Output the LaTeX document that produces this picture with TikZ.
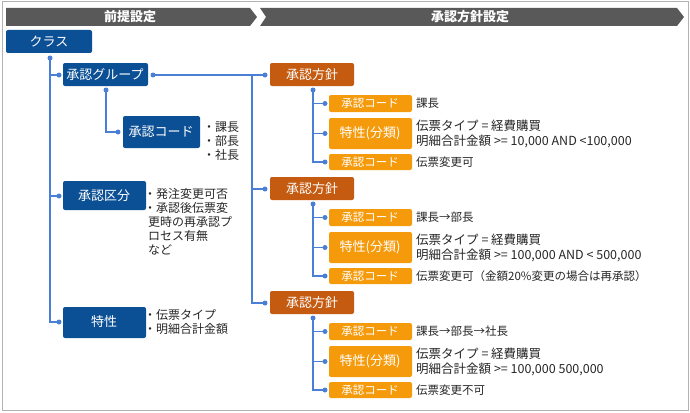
\documentclass[tikz,border=0pt]{standalone}
\usepackage{fontspec}
\setmainfont{Noto Sans CJK JP}
\usetikzlibrary{positioning}

\definecolor{navy}{HTML}{0B4F95}
\definecolor{rust}{HTML}{C55A11}
\definecolor{amber}{HTML}{F59A0B}
\definecolor{wire}{HTML}{4A7FD6}
\definecolor{band}{HTML}{595959}

\begin{document}
\begin{tikzpicture}
[
    x=1pt, y=-1pt, font=\fontsize{12}{14}\selectfont,
    % boxes are placed by their pixel corners of the original layout
]

%=================================== Start ===================================
\tikzstyle{big}  = [text=white, font=\fontsize{13}{15}\selectfont]
\tikzstyle{small}= [text=white, font=\fontsize{11.5}{13}\selectfont]
\tikzstyle{txt}  = [anchor=west, inner sep=0pt, align=left, text=black!85]
\tikzstyle{dot}  = [circle, fill=wire, minimum size=5pt, inner sep=0pt]
\tikzstyle{wl}   = [wire, line width=1.3pt]

\useasboundingbox (0,0) rectangle (690,412);
\draw[black!30, line width=1pt] (2,2) rectangle (688,410);

% Header bands
\fill[band] (6,8) -- (250,8) -- (257,17) -- (250,26) -- (6,26) -- cycle;
\fill[band] (260,8) -- (677,8) -- (684,17) -- (677,26) -- (260,26) -- (266,17) -- cycle;
\node[text=white, font=\bfseries\fontsize{13}{15}\selectfont] (h-1) at (130,17) {前提設定};
\node[text=white, font=\bfseries\fontsize{13}{15}\selectfont] (h-2) at (470,17) {承認方針設定};

% Left tree
\fill[navy, rounded corners=2pt] (6,30) rectangle (92,53);      \node[big] (K) at (49,42) {クラス};
\fill[navy, rounded corners=2pt] (63,63) rectangle (148,86);    \node[big] (G) at (105,75) {承認グループ};
\fill[navy, rounded corners=2pt] (123,116) rectangle (200,148); \node[big] (C) at (161,132) {承認コード};
\fill[navy, rounded corners=2pt] (63,181) rectangle (146,210);  \node[big] (D) at (104,196) {承認区分};
\fill[navy, rounded corners=2pt] (63,307) rectangle (146,338);  \node[big] (T) at (104,322) {特性};

\node[txt] (C-t) at (203,141) {\baselineskip=16pt ・課長\\・部長\\・社長};
\node[txt] (D-t) at (144,221.5) {\baselineskip=16.3pt ・発注変更可否\\・承認後伝票変\\\hspace*{4pt}更時の再承認プ\\\hspace*{4pt}ロセス有無\\\hspace*{4pt}など};
\node[txt] (T-t) at (144,322) {\baselineskip=16pt ・伝票タイプ\\・明細合計金額};

\draw[wl] (50,58) -- (50,322) -- (59,322);
\draw[wl] (50,75) -- (59,75);
\draw[wl] (50,196) -- (59,196);
\draw[wl] (106,90) -- (106,132) -- (118,132);
\draw[wl] (153,75) -- (265,75);
\draw[wl] (252,75) -- (252,303) -- (265,303);
\draw[wl] (252,189) -- (265,189);
\foreach \p in {(50,58),(59,75),(59,196),(59,322),(106,90),(118,132),(153,75)}
    \node[dot] at \p {};

% Right tree: three policies
\foreach \i / \y / \a / \b / \c in {
    1/63/課長/{伝票タイプ = 経費購買\\明細合計金額 >= 10,000 AND <100,000}/伝票変更可,
    2/177/課長→部長/{伝票タイプ = 経費購買\\明細合計金額 >= 100,000 AND < 500,000}/{伝票変更可（金額20\%変更の場合は再承認）},
    3/291/課長→部長→社長/{伝票タイプ = 経費購買\\明細合計金額 >= 100,000 500,000}/伝票変更不可}
{
    \fill[rust, rounded corners=2pt] (270,\y) rectangle (354,\y+23);
    \node[big] (P-\i) at (312,\y+11.5) {承認方針};
    \node[dot] at (265,\y+12) {};
    \fill[amber, rounded corners=2pt] (329,\y+32) rectangle (412,\y+49);
    \node[small] (S-\i-1) at (370,\y+40.5) {承認コード};
    \fill[amber, rounded corners=2pt] (329,\y+55) rectangle (412,\y+86);
    \node[big] (S-\i-2) at (370,\y+70.5) {特性(分類)};
    \fill[amber, rounded corners=2pt] (329,\y+91) rectangle (412,\y+107);
    \node[small] (S-\i-3) at (370,\y+99) {承認コード};
    \node[txt, font=\fontsize{11.5}{13}\selectfont] (R-\i-1) at (416,\y+40.5) {\a};
    \node[txt, font=\fontsize{12.5}{15}\selectfont] (R-\i-2) at (416,\y+70.5) {\baselineskip=16pt \b};
    \node[txt, font=\fontsize{11.5}{13}\selectfont] (R-\i-3) at (416,\y+99) {\c};
    \draw[wl] (313,\y+27) -- (313,\y+99) -- (325,\y+99);
    \draw[wl] (313,\y+40.5) -- (325,\y+40.5);
    \draw[wl] (313,\y+70.5) -- (325,\y+70.5);
    \node[dot] at (313,\y+27) {};
    \foreach \d in {40.5,70.5,99}
        \node[dot] at (325,\y+\d) {};
}
%==================================== END ====================================

\end{tikzpicture}
\end{document}
